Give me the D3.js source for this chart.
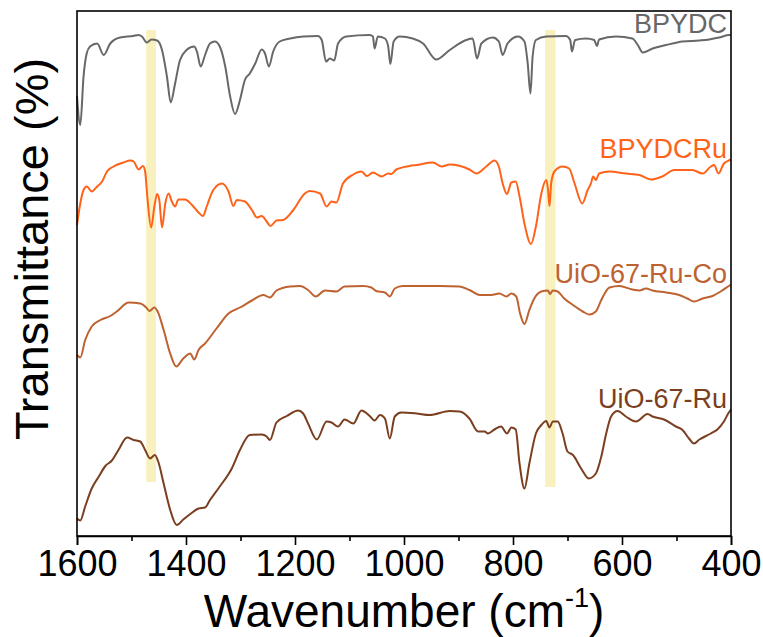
<!DOCTYPE html>
<html>
<head>
<meta charset="utf-8">
<script src="https://cdn.jsdelivr.net/npm/d3@7/dist/d3.min.js"></script>
<style>
  html, body { margin: 0; padding: 0; background: #fff; }
  svg { display: block; font-family: Arial, "Liberation Sans", sans-serif; }
</style>
</head>
<body>
<svg id="chart" width="763" height="637"></svg>
<script>
// FTIR spectra, stacked with vertical offsets (wavenumber in cm-1, transmittance in offset %)
const bpydcWn = [1600,1594,1588,1582,1576,1563,1551,1539,1521,1497,1487,1481,1472,1463,1453,1444,1435,1428,1420,1411,1399,1385,1380,1373,1365,1356,1347,1338,1328,1319,1310,1301,1292,1283,1273,1261,1255,1248,1240,1228,1209,1185,1158,1151,1143,1136,1128,1121,1106,1063,1057,1054,1048,1035,1029,1025,1019,1008,984,965,941,916,886,874,866,858,837,826,819,810,791,779,773,768,764,758,739,703,695,692,686,666,651,646,642,611,581,571,562,544,519,489,458,440,422,403,400];
const bpydcT = [88,82.2,91.9,96.6,97.9,98.5,96.2,98.5,99.7,100,100.2,99.9,98.7,99.3,99.1,97.2,91.9,86.7,90.5,95.2,97.2,97.9,96.9,93.9,96.2,98.5,98.9,97.9,93.9,87.9,84.4,87.2,91.2,92.5,94.5,97.3,96.5,93.9,96.9,98.9,99.5,99.9,100,99.2,94.9,95.5,95.1,98.5,99.9,100.2,99.9,97.5,99.9,99.5,97.9,94.4,98.9,99.9,99.5,98.5,95.3,97.2,99.2,99.5,95.5,98.5,99.7,98.9,96.2,98.5,99.9,98.9,94.5,88.5,95.9,99.2,99.9,100,99.2,96.9,99.2,99.5,99.2,98,99.3,99.9,99.5,98.2,96.7,97.5,98.2,98.9,99.1,99.3,99.7,100.2,100.2];

const bpydcRuWn = [1600,1594,1588,1582,1573,1563,1554,1545,1533,1515,1502,1496,1487,1479,1475,1471,1464,1458,1453,1449,1444,1438,1432,1426,1420,1414,1402,1389,1377,1369,1362,1350,1334,1322,1313,1307,1292,1279,1270,1261,1252,1245,1234,1222,1203,1182,1173,1154,1142,1133,1124,1112,1093,1078,1068,1057,1041,1029,1023,1014,990,977,947,931,916,880,867,849,834,826,819,811,803,795,788,779,767,758,748,739,736,733,730,724,709,697,687,673,663,657,653,648,642,623,593,568,547,526,504,471,452,437,431,423,413,404,400];
const bpydcRuT = [62.2,66.5,69.2,69.9,68.9,69.9,70.9,72.9,73.9,74.7,75.1,74.9,73.3,74,72.9,67.9,61.7,65.9,68.4,67.2,61.7,66.5,68.5,66.9,65.9,67.3,67.3,66.2,64.7,64,65.9,69.2,70.5,68.9,66,67.2,66.9,65.2,63.7,64,62.9,62,63.1,63.2,65.2,68.5,69,68.5,65.9,66.9,66.7,70.5,72.3,72.9,72,72.7,71.9,72.5,72.4,73.3,74,74.2,74.7,73.9,74.3,73.3,72.5,73.9,75.1,73.9,70.5,68.4,70.7,70.9,67.9,62.5,58.4,61.9,68.5,71.2,69.5,66,70.5,72.9,73.9,73.5,70.5,66.5,69.2,70.5,71.9,71.2,72.5,72.9,72.5,72.2,71.3,71.9,73.2,73.2,72.5,73.9,74.2,72.5,74.5,75.1,75.3];

const uioRuCoWn = [1600,1594,1585,1573,1557,1539,1527,1505,1484,1473,1467,1458,1452,1441,1429,1418,1405,1392,1385,1377,1365,1344,1322,1301,1279,1258,1246,1234,1209,1191,1176,1162,1145,1124,1109,1075,1060,1051,1035,1026,1017,1002,971,935,898,880,861,840,825,812,803,794,787,779,770,761,748,736,732,727,718,706,690,672,660,648,638,623,605,581,568,556,544,519,495,480,468,452,434,419,404,400];
const uioRuCoT = [36.2,35.7,39.2,41.9,43.2,44,44.9,46.7,46.5,45.7,45,45.7,44.9,41.2,36.5,33.9,35.5,36.5,35.3,37.2,38.5,41.5,44.5,45.7,47.1,48.2,47.7,49.1,49.9,50,49.2,47.9,49.1,48.9,49.9,50,49.7,49,48.7,47.9,49.5,50,50,50,49.9,49.2,48.2,48.2,48.5,47.9,48.5,47.9,44.5,42.4,45.2,47.5,48.9,49.1,48.4,49.1,48.9,47.5,46.2,44.9,44.3,44.9,47.2,49.7,50,49.3,49.1,49.5,49.1,48.7,48.2,47.5,46.9,47.5,48,48.9,50,50.3];

const uioRuWn = [1600,1594,1585,1573,1560,1548,1536,1524,1508,1496,1484,1475,1466,1457,1451,1441,1429,1417,1405,1392,1377,1365,1356,1338,1316,1301,1283,1261,1252,1246,1234,1215,1194,1185,1176,1160,1142,1133,1121,1109,1093,1078,1063,1054,1044,1035,1026,1017,1005,977,953,916,898,880,864,852,846,834,822,811,803,795,788,779,770,758,748,739,733,727,718,709,700,690,675,661,648,638,629,620,608,593,574,553,544,523,501,489,477,468,458,437,425,413,404,400];
const uioRuT = [3.5,3.1,5.9,9.5,11.9,14,15.1,17.2,19.7,19.2,18.9,17.2,15.5,16.2,14.9,10.5,5.2,2.2,3.3,4.4,5.5,5.7,7.2,9.9,13.5,17.2,20.2,20.3,19.9,19.2,22.7,24,25.1,24.5,22.5,19.3,22.9,22.7,21.9,23.3,22.5,25.1,24,23.1,24.2,23.5,19.5,23.9,24.7,24.5,24.2,25,24.9,23.5,20.9,20.9,20.5,21.3,21.9,20.5,21.7,21.3,14.5,9.5,14.5,20.5,22.2,23,21.7,22.9,22.9,20.5,16.9,16.2,13.5,11.5,12.5,15.9,20.5,23.9,25,23.9,22.9,24.4,23.9,23.3,21.9,21.2,19.5,18.5,19.3,20.5,21.3,22.9,24.7,25.3];

const seriesNames = ["BPYDC", "BPYDCRu", "UiO-67-Ru-Co", "UiO-67-Ru"];
const seriesColors = ["#686868", "#ff6319", "#bd6230", "#7a3f20"];
// label anchor heights (offset % units) for each series name
const labelT = [100.6, 75.6, 50.6, 25.6];

// highlighted band regions: [wn high, wn low, T top, T bottom]
const bandA = [1473, 1455, 101.2, 10.8];
const bandB = [741, 722, 101.2, 9.8];

const xMajorTicks = [1600, 1400, 1200, 1000, 800, 600, 400];
const xMinorTicks = [1500, 1300, 1100, 900, 700, 500];

const margin = { left: 77, top: 11, right: 32, bottom: 101 };
const W = 763, H = 637;
const iw = W - margin.left - margin.right;
const ih = H - margin.top - margin.bottom;

const svg = d3.select("#chart");
const g = svg.append("g").attr("transform", `translate(${margin.left},${margin.top})`);

const x = d3.scaleLinear().domain([1600, 400]).range([0, iw]);
const y = d3.scaleLinear().domain([0, 105]).range([ih, 0]);

// highlight bands
[bandA, bandB].forEach(b => {
  g.append("rect")
    .attr("x", x(b[0]))
    .attr("width", x(b[1]) - x(b[0]))
    .attr("y", y(b[2]))
    .attr("height", y(b[3]) - y(b[2]))
    .attr("fill", "#f8f1bf");
});

// spectra
const wnSets = [bpydcWn, bpydcRuWn, uioRuCoWn, uioRuWn];
const tSets = [bpydcT, bpydcRuT, uioRuCoT, uioRuT];
const line = d3.line()
  .x(d => x(d[0]))
  .y(d => y(d[1]))
  .curve(d3.curveMonotoneX);

seriesNames.forEach((name, i) => {
  const pts = wnSets[i].map((w, k) => [w, tSets[i][k]]);
  g.append("path")
    .datum(pts)
    .attr("fill", "none")
    .attr("stroke", seriesColors[i])
    .attr("stroke-width", 2)
    .attr("stroke-linejoin", "round")
    .attr("d", line);
  g.append("text")
    .attr("x", iw - 4)
    .attr("y", y(labelT[i]))
    .attr("text-anchor", "end")
    .attr("font-size", 27)
    .attr("fill", seriesColors[i])
    .text(name);
});

// frame
g.append("rect")
  .attr("x", 0).attr("y", 0)
  .attr("width", iw).attr("height", ih)
  .attr("fill", "none")
  .attr("stroke", "#000")
  .attr("stroke-width", 1.6);

// bottom axis
const xAxis = d3.axisBottom(x)
  .tickValues(xMajorTicks)
  .tickSize(9)
  .tickPadding(5)
  .tickFormat(d3.format("d"));
const ax = g.append("g").attr("transform", `translate(0,${ih})`).call(xAxis);
ax.select(".domain").attr("stroke-width", 1.6);
ax.selectAll(".tick line").attr("stroke-width", 1.6);
ax.selectAll(".tick text")
  .attr("font-size", 36)
  .attr("font-family", "Arial, 'Liberation Sans', sans-serif")
  .attr("fill", "#000");

const axMinor = d3.axisBottom(x).tickValues(xMinorTicks).tickSize(5).tickFormat("");
const am = g.append("g").attr("transform", `translate(0,${ih})`).call(axMinor);
am.select(".domain").remove();
am.selectAll(".tick line").attr("stroke-width", 1.6);

// axis titles
const xt = svg.append("text")
  .attr("x", margin.left + iw / 2)
  .attr("y", 627)
  .attr("text-anchor", "middle")
  .attr("font-size", 46)
  .attr("fill", "#000");
xt.append("tspan").text("Wavenumber (cm");
xt.append("tspan").attr("font-size", 27).attr("dy", -20).text("-1");
xt.append("tspan").attr("dy", 20).text(")");

svg.append("text")
  .attr("transform", `translate(48,${margin.top + 238}) rotate(-90)`)
  .attr("text-anchor", "middle")
  .attr("font-size", 47)
  .attr("fill", "#000")
  .text("Transmittance (%)");
</script>
</body>
</html>
